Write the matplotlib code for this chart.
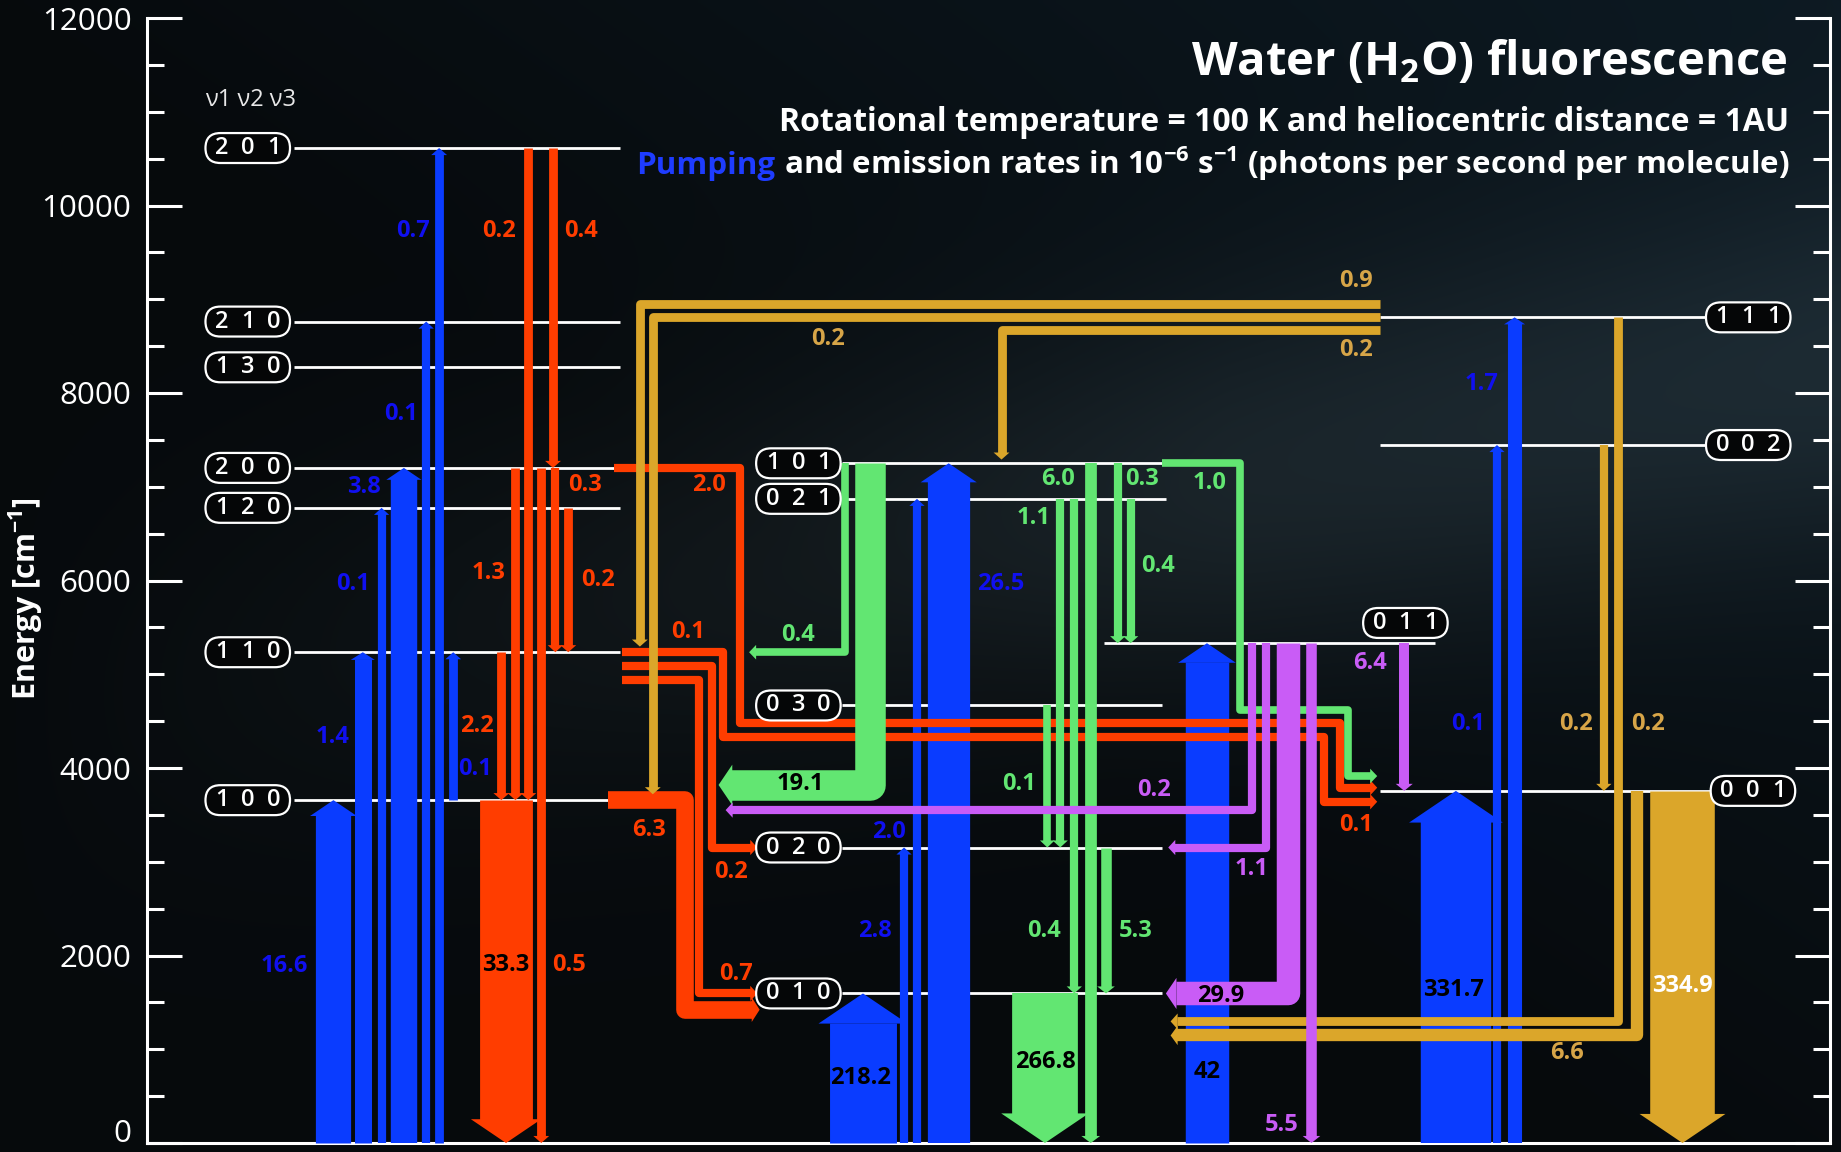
import numpy as np
import matplotlib
matplotlib.use("Agg")
import matplotlib.pyplot as plt
from matplotlib.patches import Polygon, FancyBboxPatch
from matplotlib.ticker import MultipleLocator, FuncFormatter

plt.rcParams["font.family"] = ["Open Sans", "DejaVu Sans"]
plt.rcParams["mathtext.default"] = "regular"

# vibrational levels (v1 v2 v3) and their term energies [cm-1]
LEVELS = ["010", "020", "100", "001", "030", "110", "011", "120",
          "021", "200", "101", "002", "130", "210", "111", "201"]
ENERGY = [1595, 3152, 3657, 3756, 4667, 5235, 5331, 6775,
          6871, 7201, 7250, 7445, 8274, 8762, 8807, 10613]
E = dict(zip(LEVELS, ENERGY))
E["000"] = 0

# pumping (absorption) rates, 1e-6 s-1
PUMP_UP = ["100", "110", "120", "200", "210", "201", "110", "010",
           "020", "021", "101", "011", "001", "002", "111"]
PUMP_LO = ["000"] * 6 + ["100"] + ["000"] * 8
PUMP_RATE = [16.6, 1.4, 0.1, 3.8, 0.1, 0.7, 0.1, 218.2,
             2.8, 2.0, 26.5, 42, 331.7, 0.1, 1.7]

# emission rates, grouped by colour of the cascade
RED_UP = ["100", "110", "200", "201", "200", "201", "200", "120",
          "100", "110", "110", "200", "110"]
RED_LO = ["000", "100", "100", "100", "000", "200", "110", "110",
          "010", "010", "020", "001", "001"]
RED_RATE = [33.3, 2.2, 1.3, 0.2, 0.5, 0.4, 0.3, 0.2, 6.3, 0.7, 0.2, 2.0, 0.1]

GREEN_UP = ["101", "101", "101", "030", "021", "021", "020", "101", "021", "010", "101"]
GREEN_LO = ["110", "100", "000", "020", "020", "010", "010", "011", "011", "000", "001"]
GREEN_RATE = [0.4, 19.1, 6.0, 0.1, 1.1, 0.4, 5.3, 0.3, 0.4, 266.8, 1.0]

PURPLE_UP = ["011"] * 5
PURPLE_LO = ["100", "020", "010", "000", "001"]
PURPLE_RATE = [0.2, 1.1, 29.9, 5.5, 6.4]

GOLD_UP = ["111", "111", "111", "002", "111", "001", "001"]
GOLD_LO = ["110", "100", "101", "001", "010", "010", "000"]
GOLD_RATE = [0.9, 0.2, 0.2, 0.2, 0.2, 6.6, 334.9]

# ---- layout (x in diagram pixels, y in cm-1) ----
X_MAX, Y_LO, Y_HI = 1568, -96, 12192
PXE = (Y_HI - Y_LO) / 981.0        # cm-1 per diagram pixel
LW = 1841 / 1568 * 72 / 100        # points per diagram pixel

PUMP_PATH = [[(x, lo), (x, up)] for x, lo, up in zip(
    [284, 309, 325, 344, 363, 374, 386, 735, 770, 781, 808, 1028, 1240, 1275, 1290],
    PUMP_LO, PUMP_UP)]
PUMP_W = [30, 14.5, 7, 22.5, 7, 7.5, 7.5, 57, 7, 7, 36, 37, 60, 7, 12]
PUMP_LAB = [(242, 1886), (283, 4328), (301, 5968), (310, 6995), (342, 7771),
            (352, 9725), (405, 3990), (733, 696), (745, 2261), (757, 3313),
            (852, 5968), (1028, 759), (1238, 1635), (1250, 4465), (1262, 8097)]

RED_PATH = [
    [(431, "100"), (431, "000")],
    [(427, "110"), (427, "100")],
    [(439, "200"), (439, "100")],
    [(450, "201"), (450, "100")],
    [(461, "200"), (461, "000")],
    [(471, "201"), (471, "200")],
    [(473, "200"), (473, "110")],
    [(484, "120"), (484, "110")],
    [(518, "100"), (583, "100"), (583, 1422), (647, 1422)],
    [(530, 4935), (595, 4935), (595, "010"), (645, "010")],
    [(530, 5085), (606, 5085), (606, "020"), (645, "020")],
    [(523, "200"), (630, "200"), (630, 4478), (1141, 4478), (1141, 3790), (1173, 3790)],
    [(530, "110"), (616, "110"), (616, 4330), (1128, 4330), (1128, 3640), (1173, 3640)],
]
RED_W = [45, 7.5, 7.5, 7.5, 7.5, 7.5, 7, 7.5, 15, 7, 7, 7, 7]
RED_LAB = [[(431, 1898)], [(406, 4453)], [(416, 6081)], [(425, 9725)], [(485, 1898)],
           [(495, 9725)], [(498, 7020)], [(509, 6006)], [(553, 3338)], [(627, 1798)],
           [(623, 2888)], [(604, 7020)], [(586, 5455), (1155, 3388)]]

GREEN_PATH = [
    [(720, "101"), (720, "110"), (638, "110")],
    [(741, "101"), (741, 3819), (612, 3819)],
    [(929, "101"), (929, "000")],
    [(892, "030"), (892, "020")],
    [(903, "021"), (903, "020")],
    [(915, "021"), (915, "010")],
    [(942, "020"), (942, "010")],
    [(952, "101"), (952, "011")],
    [(963, "021"), (963, "011")],
    [(890, "010"), (890, "000")],
    [(990, "101"), (1056, "101"), (1056, 4616), (1148, 4616), (1148, 3914), (1173, 3914)],
]
GREEN_W = [6.5, 26, 10, 6.5, 7, 7, 9, 7, 7, 56, 6.5]
GREEN_LAB = [(680, 5417), (682, 3827), (901, 7083), (868, 3827), (880, 6669),
             (889, 2261), (967, 2261), (973, 7083), (986, 6156), (890, 859), (1030, 7045)]

PURPLE_PATH = [
    [(1066, "011"), (1066, 3551), (618, 3551)],
    [(1078, "011"), (1078, "020"), (995, "020")],
    [(1097, "011"), (1097, "010"), (993, "010")],
    [(1117, "011"), (1117, "000")],
    [(1196, "011"), (1196, "001")],
]
PURPLE_W = [7, 7, 20, 9, 8.5]
PURPLE_LAB = [(983, 3764), (1066, 2925), (1040, 1573), (1092, 195), (1167, 5117)]

GOLD_PATH = [
    [(1175, 8947), (545, 8947), (545, 5295)],
    [(1175, "111"), (556, "111"), (556, 3720)],
    [(1175, 8667), (853, 8667), (853, 7290)],
    [(1366, "002"), (1366, "001")],
    [(1378, "111"), (1378, 1297), (997, 1297)],
    [(1394, "001"), (1394, 1147), (997, 1147)],
    [(1433, "001"), (1433, "000")],
]
GOLD_W = [7.5, 7.5, 7.5, 7, 7.5, 10.5, 55]
GOLD_LAB = [(1155, 9199), (705, 8573), (1155, 8460), (1342, 4465), (1404, 4465),
            (1335, 959), (1433, 1673)]

# level lines: (x start, x end) and label pill centre
LINE_SPAN = {lv: (250, 528) for lv in ["201", "210", "130", "200", "120", "110", "100"]}
LINE_SPAN.update({lv: (717, 990) for lv in ["101", "030", "020", "010"]})
LINE_SPAN.update({"021": (717, 993), "011": (940, 1222), "111": (1175, 1455),
                  "002": (1175, 1455), "001": (1175, 1458)})
PILL = {lv: (211, E[lv]) for lv in ["201", "210", "130", "200", "120", "110", "100"]}
PILL.update({lv: (680, E[lv]) for lv in ["101", "021", "030", "020", "010"]})
PILL.update({"111": (1489, E["111"]), "002": (1489, E["002"]),
             "001": (1493, E["001"]), "011": (1197, 5547)})

C_BLUE, C_BLUE_TXT = "#0a3cff", "#1010f0"
C_RED = "#ff3d00"
C_GREEN = "#62e672"
C_PURPLE = "#c95cf6"
C_GOLD, C_GOLD_TXT = "#dba62a", "#d7a548"

fig = plt.figure(figsize=(18.41, 11.52), dpi=100)
ax = fig.add_axes([0, 0, 1, 1])
ax.set_xlim(0, X_MAX)
ax.set_ylim(Y_LO, Y_HI)

# night-sky backdrop
gy, gx = np.mgrid[0:1:240j, 0:1:380j]
band = np.exp(-((gy - (0.62 - 0.30 * gx)) / 0.17) ** 2) * np.clip(gx * 1.5, 0, 1)
corner = np.clip(gx - 0.9 * gy, 0, 1)
sky = (np.array([0.025, 0.040, 0.050])
       + band[..., None] * np.array([0.070, 0.085, 0.090])
       + corner[..., None] * np.array([0.025, 0.060, 0.085]))
ax.imshow(np.clip(sky, 0, 1), extent=(0, X_MAX, Y_LO, Y_HI), origin="upper",
          aspect="auto", interpolation="bilinear", zorder=0)


def fmt(r):
    return f"{r:.0f}" if r >= 10 and float(r).is_integer() else f"{r:.1f}"


def draw_arrow(path, w, color, z):
    pts = [(x, E[y] if isinstance(y, str) else y) for x, y in path]
    hw = max(1.33 * w, w + 6)
    hl = max(0.45 * w, 6)
    (x0, y0), (x1, y1) = pts[-2], pts[-1]
    if x0 == x1:
        s = 1 if y1 > y0 else -1
        yb = y1 - s * hl * PXE
        base = (x1, yb + s * 0.8 * PXE)
        head = [(x1 - hw / 2, yb), (x1 + hw / 2, yb), (x1, y1)]
    else:
        s = 1 if x1 > x0 else -1
        xb = x1 - s * hl
        base = (xb + s * 0.8, y1)
        head = [(xb, y1 - hw / 2 * PXE), (xb, y1 + hw / 2 * PXE), (x1, y1)]
    xs, ys = zip(*(pts[:-1] + [base]))
    ax.plot(xs, ys, color=color, lw=w * LW, solid_capstyle="butt",
            solid_joinstyle="round", zorder=z)
    ax.add_patch(Polygon(head, closed=True, facecolor=color, edgecolor="none", zorder=z))


def label(x, y, txt, color):
    ax.text(x, y, txt, ha="center", va="center", fontsize=17, fontweight="bold",
            color=color, zorder=12)


# energy level lines
for lv, (xa, xb) in LINE_SPAN.items():
    ax.plot([xa, xb], [E[lv], E[lv]], color="white", lw=2.0, solid_capstyle="butt", zorder=2)

big = {218.2, 42, 331.7, 33.3, 19.1, 266.8, 29.9}

for path, w, r, lab in zip(PUMP_PATH, PUMP_W, PUMP_RATE, PUMP_LAB):
    draw_arrow(path, w, C_BLUE, 3)
    label(*lab, fmt(r), "black" if r in big else C_BLUE_TXT)

for path, w, r, labs in zip(RED_PATH, RED_W, RED_RATE, RED_LAB):
    draw_arrow(path, w, C_RED, 4)
    for lab in labs:
        label(*lab, fmt(r), "black" if r in big else C_RED)

for path, w, r, lab in zip(GREEN_PATH, GREEN_W, GREEN_RATE, GREEN_LAB):
    draw_arrow(path, w, C_GREEN, 5)
    label(*lab, fmt(r), "black" if r in big else C_GREEN)

for path, w, r, lab in zip(GOLD_PATH, GOLD_W, GOLD_RATE, GOLD_LAB):
    draw_arrow(path, w, C_GOLD, 6)
    label(*lab, fmt(r), "white" if r > 300 else C_GOLD_TXT)

for path, w, r, lab in zip(PURPLE_PATH, PURPLE_W, PURPLE_RATE, PURPLE_LAB):
    draw_arrow(path, w, C_PURPLE, 7)
    label(*lab, fmt(r), "black" if r in big else C_PURPLE)

# quantum-number pills
for lv, (cx, cy) in PILL.items():
    ax.add_patch(FancyBboxPatch((cx - 36, cy - 12.75 * PXE), 72, 25.5 * PXE,
                                boxstyle="round,pad=0,rounding_size=12.75",
                                mutation_aspect=PXE, facecolor="#050607",
                                edgecolor="white", lw=1.6, zorder=9))
    for dx, ch in zip((-22, 0, 22), lv):
        ax.text(cx + dx, cy, ch, ha="center", va="center", fontsize=17,
                fontweight="semibold", color="white", zorder=10)

ax.text(213, 11128, "ν1 ν2 ν3", ha="center", va="center", fontsize=17,
        color="#e8e8e8", zorder=10)

# axes frame
ax.spines["top"].set_visible(False)
ax.spines["left"].set_position(("data", 125))
ax.spines["right"].set_position(("data", 1559))
ax.spines["bottom"].set_position(("data", 0))
for side in ("left", "right"):
    ax.spines[side].set_bounds(0, 12000)
ax.spines["bottom"].set_bounds(125, 1559)
for side in ("left", "right", "bottom"):
    ax.spines[side].set_color("white")
    ax.spines[side].set_linewidth(2.2)
    ax.spines[side].set_zorder(2.5)
ax.set_xticks([])
ax.yaxis.set_major_locator(MultipleLocator(2000))
ax.yaxis.set_minor_locator(MultipleLocator(500))
# the zero label sits a little above its tick so it stays inside the frame
ax.yaxis.set_major_formatter(FuncFormatter(lambda v, _: "" if v == 0 else f"{v:.0f}"))
ax.tick_params(axis="y", which="both", direction="in", left=True, right=True,
               labelleft=True, labelright=False, colors="white", width=2.2, pad=11,
               labelsize=22.5)
ax.tick_params(axis="y", which="major", length=25)
ax.tick_params(axis="y", which="minor", length=12)
ax.text(112, 95, "0", ha="right", va="center", fontsize=22.5, color="white", zorder=10)

ax.text(22, 5805, "Energy [cm$^{-1}$]", rotation=90, ha="center", va="center",
        fontsize=22, fontweight="bold", color="white", zorder=10)

# titles
ax.text(1522, 11390, "Water (H$_2$O) fluorescence", ha="right", va="baseline",
        fontsize=34, fontweight="bold", color="white", zorder=10)
ax.text(1524, 10790, "Rotational temperature = 100 K and heliocentric distance = 1AU",
        ha="right", va="baseline", fontsize=23, fontweight="bold", color="white", zorder=10)
rest = ax.text(1524, 10339,
               " and emission rates in 10$^{-6}$ s$^{-1}$ (photons per second per molecule)",
               ha="right", va="baseline", fontsize=22.6, fontweight="bold", color="white",
               zorder=10)
ax.annotate("Pumping", xy=(0, 10339), xycoords=(rest, "data"), ha="right", va="baseline",
            fontsize=22.6, fontweight="bold", color="#1e3cff", zorder=10)

fig.savefig("out.png", dpi=100)
